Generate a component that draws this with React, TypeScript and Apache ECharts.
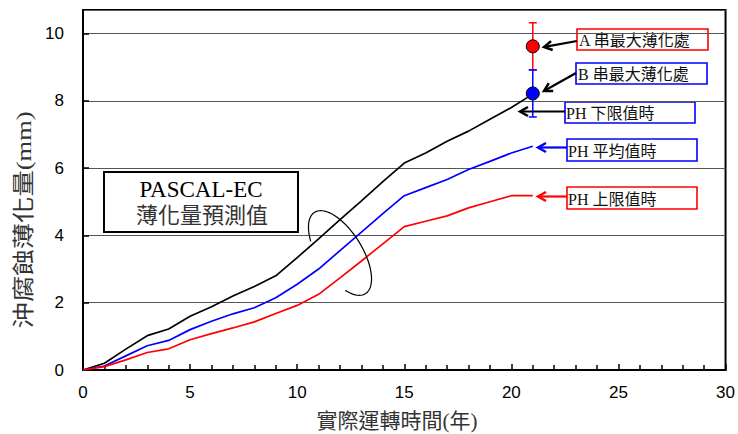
import React, { useEffect, useRef } from "react";
import * as echarts from "echarts";

// operating years
const years = [0, 1, 2, 3, 4, 5, 6, 7, 8, 9, 10, 11, 12, 13, 14, 15, 16, 17, 18, 19, 20, 21];
// PASCAL-EC predicted thinning (mm)
const phLow = [0, 0.2, 0.62, 1.02, 1.22, 1.6, 1.88, 2.2, 2.48, 2.8, 3.34, 3.9, 4.47, 5.03, 5.6, 6.15, 6.45, 6.8, 7.1, 7.45, 7.8, 8.2];
const phAvg = [0, 0.12, 0.42, 0.72, 0.88, 1.2, 1.45, 1.67, 1.85, 2.15, 2.55, 3.0, 3.55, 4.1, 4.65, 5.18, 5.42, 5.66, 5.96, 6.2, 6.45, 6.65];
const phHigh = [0, 0.1, 0.3, 0.52, 0.63, 0.9, 1.08, 1.25, 1.43, 1.68, 1.92, 2.25, 2.74, 3.24, 3.75, 4.26, 4.42, 4.58, 4.82, 5.0, 5.18, 5.18];
// measured maximum thinning
const measuredNames = ["A 串最大薄化處", "B 串最大薄化處"];
const measuredYear = [21, 21];
const measuredValue = [9.62, 8.22];
const measuredErr = [0.7, 0.7];
const measuredColors = ["#ff0000", "#0000ff"];

const lineNames = ["PH 下限值時", "PH 平均值時", "PH 上限值時"];
const lineColors = ["#000000", "#0000ff", "#ff0000"];

const SERIF = "'Liberation Serif', 'Noto Sans CJK TC', serif";
const SANS = "'Liberation Sans', Arial, sans-serif";

function arrow(x1: number, y1: number, x2: number, y2: number, color: string) {
  const dx = x2 - x1, dy = y2 - y1;
  const len = Math.sqrt(dx * dx + dy * dy);
  const ux = dx / len, uy = dy / len;
  const px = -uy, py = ux;
  const hl = 8, hw = 4.5;
  return {
    type: "group",
    z: 100,
    children: [
      { type: "line", shape: { x1, y1, x2: x2 - ux * 2, y2: y2 - uy * 2 }, style: { stroke: color, lineWidth: 2.2 } },
      {
        type: "polyline",
        shape: {
          points: [
            [x2 - ux * hl + px * hw, y2 - uy * hl + py * hw],
            [x2, y2],
            [x2 - ux * hl - px * hw, y2 - uy * hl - py * hw],
          ],
        },
        style: { stroke: color, lineWidth: 2.5, fill: "none" },
      },
    ],
  };
}

function labelBox(x: number, y: number, w: number, h: number, color: string, text: string, pad: number) {
  return {
    type: "group",
    z: 100,
    children: [
      { type: "rect", shape: { x, y, width: w, height: h }, style: { fill: "#fff", stroke: color, lineWidth: 1.6 } },
      {
        type: "text",
        x: x + pad,
        y: y + h / 2 + 1,
        style: { text, font: `16px ${SERIF}`, fill: "#111", align: "left", verticalAlign: "middle" },
      },
    ],
  };
}

function ellipsePoints(cx: number, cy: number, a: number, b: number, angDeg: number, t0: number, t1: number) {
  const th = (angDeg * Math.PI) / 180;
  const ux = Math.cos(th), uy = Math.sin(th);
  const nx = Math.sin(th), ny = -Math.cos(th);
  const pts: number[][] = [];
  const n = 80;
  for (let i = 0; i <= n; i++) {
    const t = ((t0 + ((t1 - t0) * i) / n) * Math.PI) / 180;
    const ca = a * Math.cos(t), sb = b * Math.sin(t);
    pts.push([cx + ca * ux + sb * nx, cy + ca * uy + sb * ny]);
  }
  return pts;
}

export default function App() {
  const ref = useRef<HTMLDivElement>(null);
  useEffect(() => {
    document.body.style.margin = "0";
    const chart = echarts.init(ref.current!, null, { renderer: "svg" });
    const lines = [phLow, phAvg, phHigh].map((arr, k) => ({
      name: lineNames[k],
      type: "line",
      data: years.map((yr, i) => [yr, arr[i]]),
      showSymbol: false,
      symbol: "none",
      lineStyle: { color: lineColors[k], width: 1.7 },
      itemStyle: { color: lineColors[k] },
      z: 3,
    }));
    const errSeries = measuredNames.map((nm, k) => ({
      name: nm + " 誤差",
      type: "custom",
      z: 4,
      itemStyle: { color: measuredColors[k] },
      data: [[measuredYear[k], measuredValue[k] - measuredErr[k], measuredValue[k] + measuredErr[k]]],
      renderItem: (params: any, api: any) => {
        const x = api.value(0);
        const lo = api.coord([x, api.value(1)]);
        const hi = api.coord([x, api.value(2)]);
        const c = api.visual("color");
        const hw = 4;
        return {
          type: "group",
          children: [
            { type: "line", shape: { x1: lo[0], y1: lo[1], x2: hi[0], y2: hi[1] }, style: { stroke: c, lineWidth: 1.5 } },
            { type: "line", shape: { x1: hi[0] - hw, y1: hi[1], x2: hi[0] + hw, y2: hi[1] }, style: { stroke: c, lineWidth: 1.5 } },
            { type: "line", shape: { x1: lo[0] - hw, y1: lo[1], x2: lo[0] + hw, y2: lo[1] }, style: { stroke: c, lineWidth: 1.5 } },
          ],
        };
      },
    }));
    const dotSeries = measuredNames.map((nm, k) => ({
      name: nm,
      type: "scatter",
      z: 5,
      symbolSize: 13,
      itemStyle: { color: measuredColors[k], borderColor: "#000", borderWidth: 1, opacity: 1 },
      data: [[measuredYear[k], measuredValue[k]]],
    }));

    chart.setOption({
      animation: false,
      backgroundColor: "#fff",
      grid: { left: 83, right: 10, top: 10, bottom: 64, show: true, borderColor: "#000", borderWidth: 2, backgroundColor: "transparent" },
      xAxis: {
        type: "value",
        min: 0,
        max: 30,
        interval: 5,
        axisLine: { show: true, lineStyle: { color: "#000", width: 2 } },
        axisTick: { show: true, inside: true, length: 6, lineStyle: { color: "#000", width: 1.5 } },
        minorTick: { show: true, splitNumber: 5, length: 5, lineStyle: { color: "#000", width: 1.5 } },
        splitLine: { show: false },
        axisLabel: { color: "#000", fontSize: 17, fontFamily: SANS, margin: 14 },
      },
      yAxis: {
        type: "value",
        min: 0,
        max: 10.7,
        interval: 2,
        axisLine: { show: true, lineStyle: { color: "#000", width: 2 } },
        axisTick: { show: true, inside: true, length: 6, lineStyle: { color: "#000", width: 1.5 } },
        splitLine: { show: true, lineStyle: { color: "#555", width: 1.2 } },
        axisLabel: { color: "#000", fontSize: 17, fontFamily: SANS, margin: 19, showMaxLabel: false },
      },
      series: [...lines, ...errSeries, ...dotSeries],
      graphic: [
        {
          type: "text",
          x: 23,
          y: 220,
          rotation: Math.PI / 2,
          scaleX: 1.2,
          z: 100,
          style: { text: "沖腐蝕薄化量(mm)", font: `22px ${SERIF}`, fill: "#333", align: "center", verticalAlign: "middle" },
        },
        {
          type: "text",
          x: 397,
          y: 421,
          z: 100,
          style: { text: "實際運轉時間(年)", font: `21px ${SERIF}`, fill: "#333", align: "center", verticalAlign: "middle" },
        },
        {
          type: "group",
          z: 100,
          children: [
            { type: "rect", shape: { x: 104, y: 172, width: 194, height: 60 }, style: { fill: "#fff", stroke: "#000", lineWidth: 2 } },
            { type: "text", x: 201, y: 189, style: { text: "PASCAL-EC", font: `23px ${SERIF}`, fill: "#000", align: "center", verticalAlign: "middle" } },
            { type: "text", x: 202, y: 215, style: { text: "薄化量預測值", font: `22px ${SERIF}`, fill: "#333", align: "center", verticalAlign: "middle" } },
          ],
        },
        {
          type: "polyline",
          z: 100,
          shape: { points: ellipsePoints(340, 253, 48, 22, 58, -44, 238) },
          style: { stroke: "#000", lineWidth: 1.2, fill: "none" },
        },
        labelBox(577, 29, 131, 21, "#ff0000", measuredNames[0], 2),
        labelBox(576, 63, 131, 21, "#0000ff", measuredNames[1], 2),
        labelBox(565, 102, 130, 21, "#0000ff", lineNames[0], 1),
        labelBox(567, 139, 130, 22, "#0000ff", lineNames[1], 1),
        labelBox(567, 187, 130, 22, "#ff0000", lineNames[2], 1),
        arrow(577, 41, 544, 47, "#000"),
        arrow(576, 73, 544, 91, "#000"),
        arrow(565, 111.5, 520, 111.5, "#000"),
        arrow(567, 147.5, 538, 147.5, "#0000ff"),
        arrow(567, 196.5, 538, 196.5, "#ff0000"),
      ],
    });
    return () => chart.dispose();
  }, []);
  return <div ref={ref} style={{ width: 738, height: 434 }} />;
}
